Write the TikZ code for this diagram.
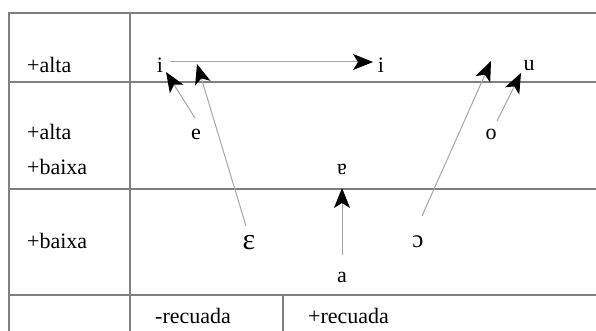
\documentclass[tikz,border=0pt]{standalone}
\usepackage{fontspec}
\setmainfont{Liberation Serif}
\usetikzlibrary{arrows.meta}
\begin{document}
\begin{tikzpicture}[x=1pt,y=-1pt,
  grid/.style={draw=black!50,line width=1.2pt},
  lbl/.style={anchor=base west,inner sep=0pt,font=\fontsize{22}{26}\selectfont},
  sym/.style={anchor=base,inner sep=0pt,font=\fontsize{22}{26}\selectfont},
  arr/.style={draw=black!35,line width=1pt,-{Stealth[length=20pt,width=16pt,inset=5pt,black]}}]
\useasboundingbox (0,0) rectangle (596,331);
% table
\draw[grid] (596,13) -- (9,13) -- (9,331);
\draw[grid] (130,13) -- (130,331);
\draw[grid] (9,82) -- (596,82);
\draw[grid] (9,189) -- (596,189);
\draw[grid] (9,295) -- (596,295);
\draw[grid] (283,295) -- (283,331);
% row labels
\node[lbl] (l1) at (27,73) {+alta};
\node[lbl] (l2) at (27,140) {+alta};
\node[lbl] (l3) at (27,175) {+baixa};
\node[lbl] (l4) at (27,248) {+baixa};
\node[lbl] (c1) at (155,323) {-recuada};
\node[lbl] (c2) at (308,323) {+recuada};
% symbols
\node[sym] (i1) at (160,73) {i};
\node[sym] (i2) at (381,73) {i};
\node[sym] (u) at (529,71) {u};
\node[sym] (e) at (196,140) {e};
\node[sym] (o) at (491,140) {o};
\node[sym] (A) at (342,175) {ɐ};
\node[sym,font=\fontsize{30}{34}\selectfont] (E) at (249,249) {ɛ};
\node[sym,font=\fontsize{25}{28}\selectfont] (O) at (418,247) {ɔ};
\node[sym] (a) at (342,282) {a};
% arrow ends
\coordinate (s1) at (170,62);  \coordinate (t1) at (373,62);
\coordinate (s2) at (195,118); \coordinate (t2) at (166,72);
\coordinate (s3) at (246,226); \coordinate (t3) at (197,64);
\coordinate (s4) at (422,216); \coordinate (t4) at (491,61);
\coordinate (s5) at (497,121); \coordinate (t5) at (521,73);
\coordinate (s6) at (342,255); \coordinate (t6) at (342,188);
\draw[arr] (s1) -- (t1);
\draw[arr] (s2) -- (t2);
\draw[arr] (s3) -- (t3);
\draw[arr] (s4) -- (t4);
\draw[arr] (s5) -- (t5);
\draw[arr] (s6) -- (t6);
\end{tikzpicture}
\end{document}
